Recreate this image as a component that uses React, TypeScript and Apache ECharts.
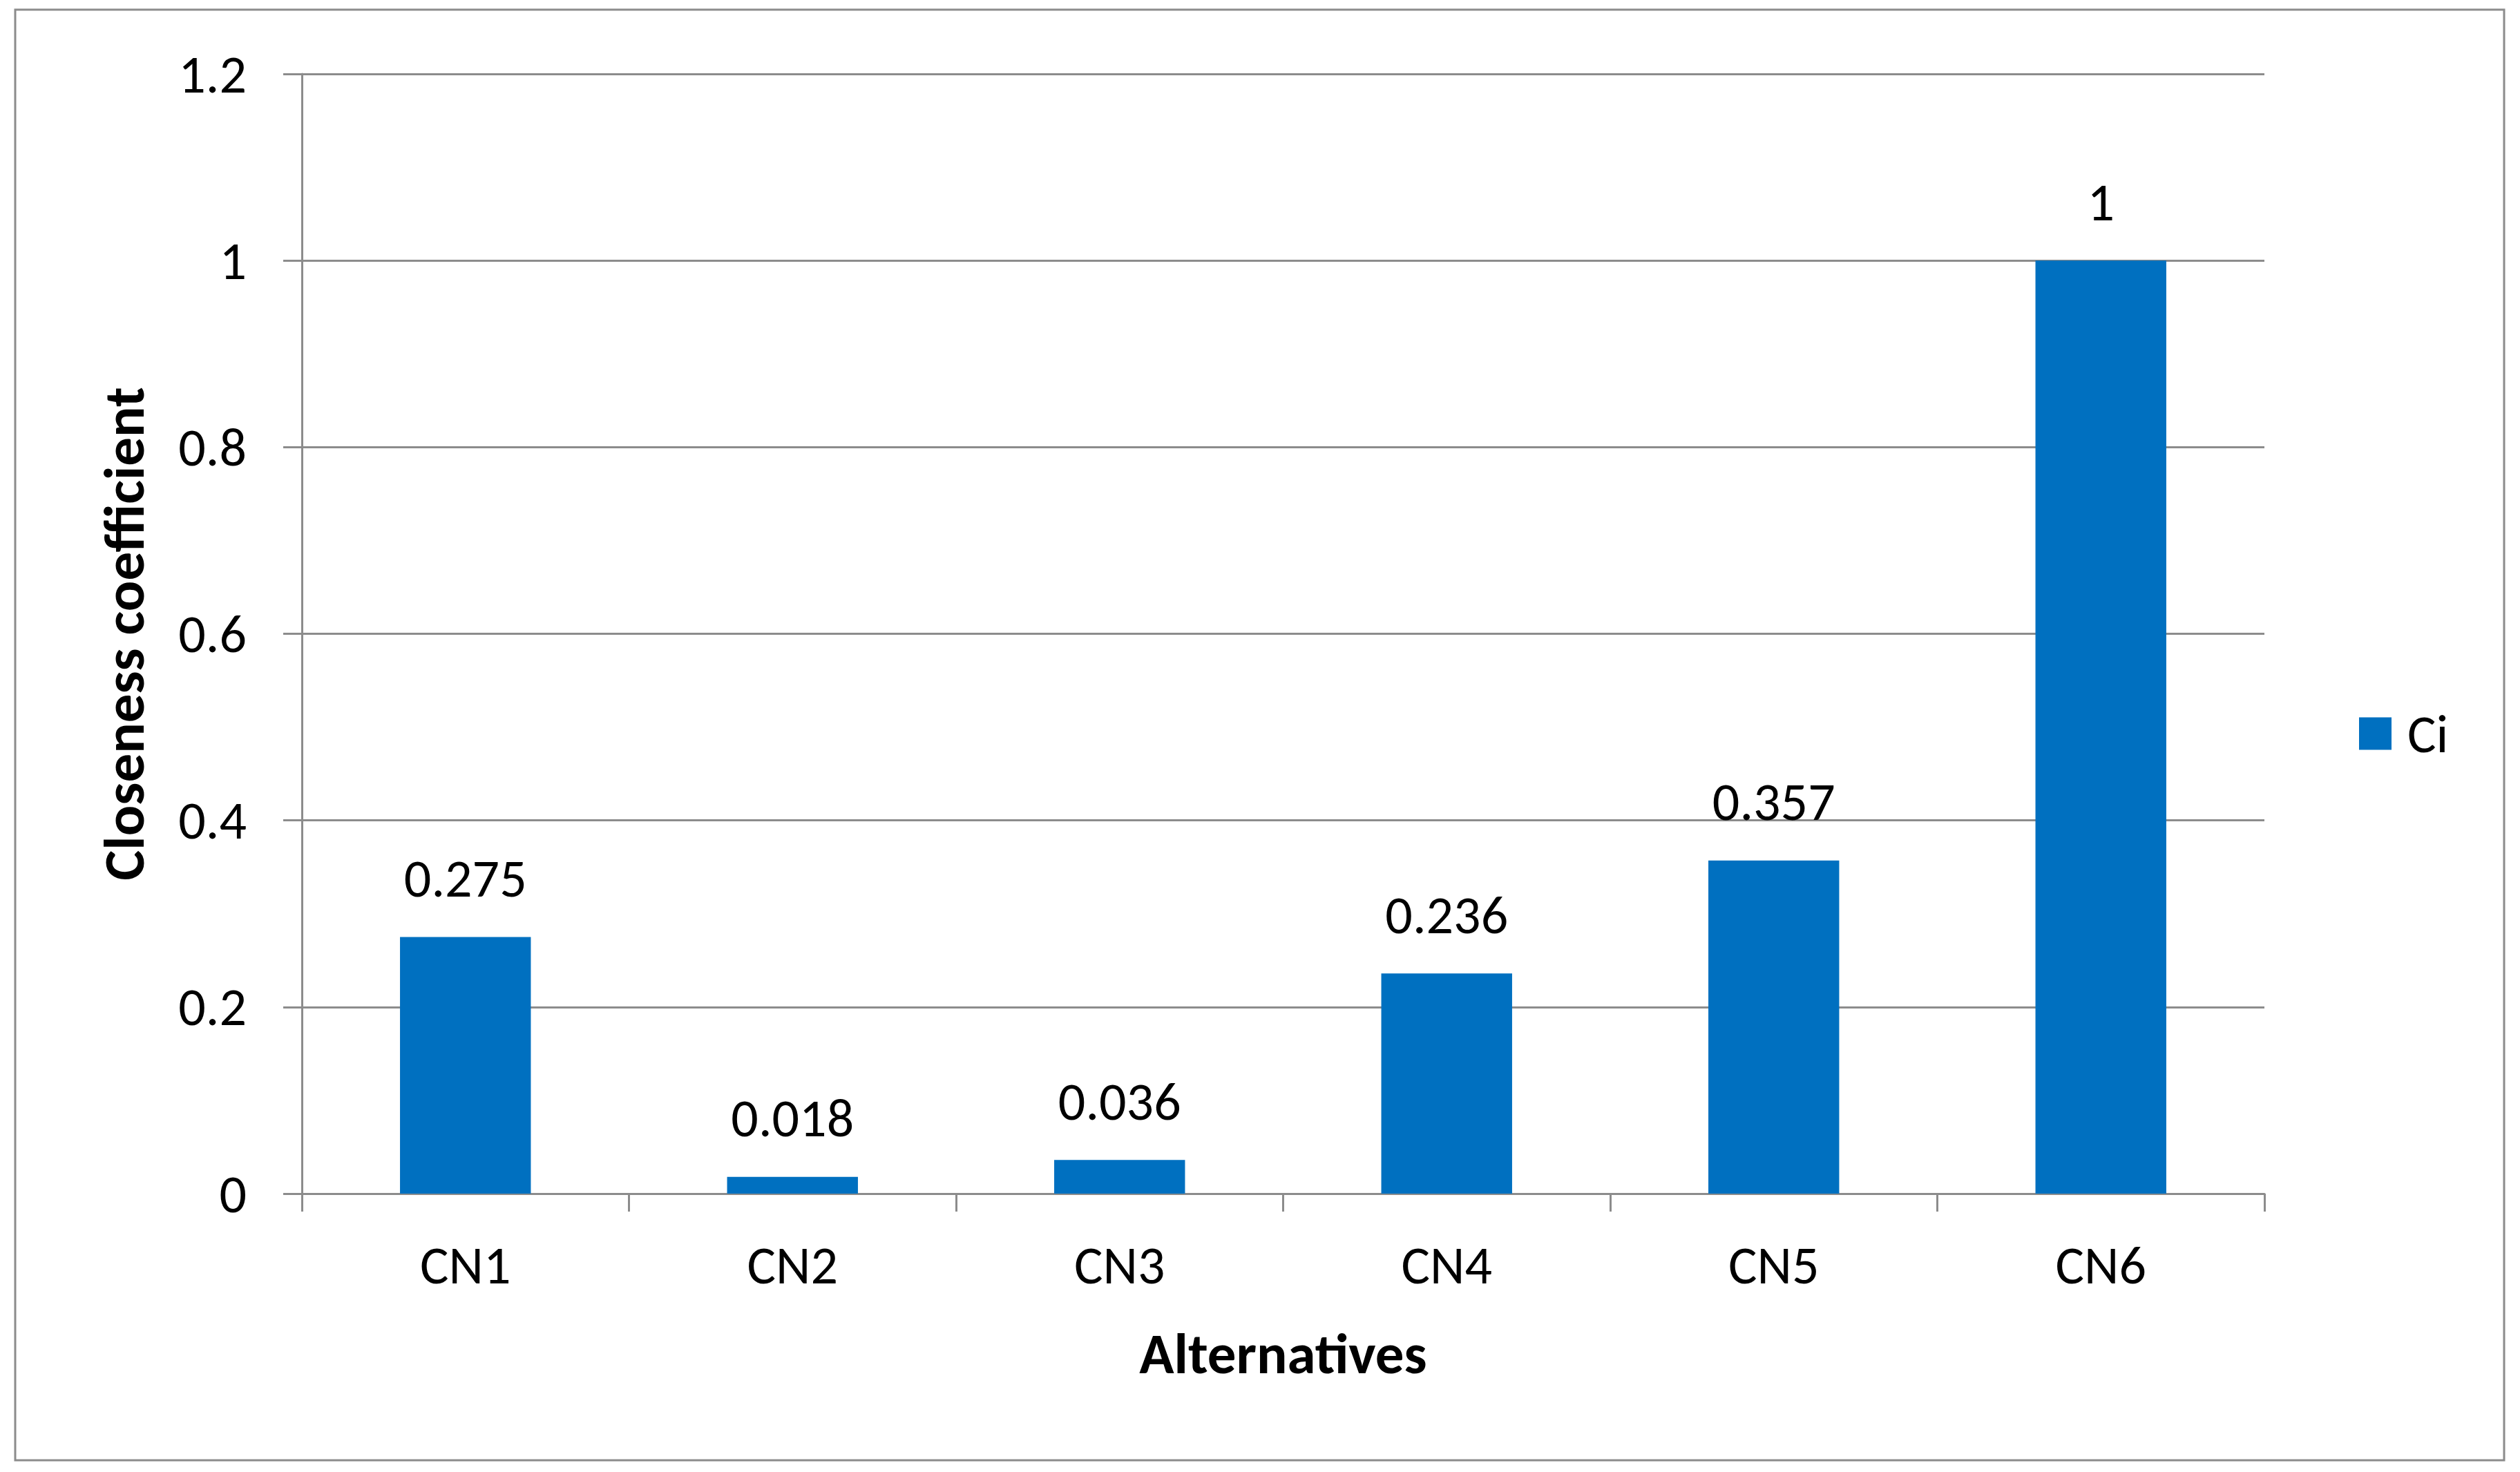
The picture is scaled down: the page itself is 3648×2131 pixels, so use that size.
import React, { useEffect, useRef } from "react";
import * as echarts from "echarts";

const categories = ["CN1", "CN2", "CN3", "CN4", "CN5", "CN6"];
const ciValues = [0.275, 0.018, 0.036, 0.236, 0.357, 1];
const seriesName = "Ci";
const xTitle = "Alternatives";
const yTitle = "Closeness coefficient";

const FONT = "Carlito, Calibri, Lato, 'Open Sans', sans-serif";
const GRAY = "#8c8c8c";

export default function App() {
  const ref = useRef<HTMLDivElement>(null);
  useEffect(() => {
    if (!ref.current) return;
    const chart = echarts.init(ref.current, null, { renderer: "svg" });
    chart.setOption({
      animation: false,
      backgroundColor: "#ffffff",
      textStyle: { fontFamily: FONT },
      graphic: [
        {
          type: "rect",
          shape: { x: 22, y: 14, width: 3603, height: 2100 },
          style: { fill: "none", stroke: GRAY, lineWidth: 3 },
          silent: true,
        },
      ],
      grid: { left: 437, top: 107, width: 2841, height: 1621, containLabel: false },
      legend: {
        show: true,
        data: [seriesName],
        left: 3410,
        top: 1018,
        itemWidth: 47,
        itemHeight: 47,
        icon: "rect",
        textStyle: { fontSize: 78, color: "#000", fontFamily: FONT, padding: [0, 0, 0, 18] },
      },
      xAxis: {
        type: "category",
        data: categories,
        name: xTitle,
        nameLocation: "middle",
        nameGap: 190,
        nameTextStyle: { fontSize: 83, fontWeight: "bold", color: "#000", fontFamily: FONT, verticalAlign: "top" },
        axisLine: { show: true, lineStyle: { color: GRAY, width: 3 } },
        axisTick: { show: true, length: 26, lineStyle: { color: GRAY, width: 3 } },
        axisLabel: { fontSize: 78, color: "#000", margin: 64, fontFamily: FONT },
        splitLine: { show: false },
      },
      yAxis: {
        type: "value",
        min: 0,
        max: 1.2,
        interval: 0.2,
        name: yTitle,
        nameLocation: "middle",
        nameGap: 216,
        nameRotate: 90,
        nameTextStyle: { fontSize: 83, fontWeight: "bold", color: "#000", fontFamily: FONT },
        axisLine: { show: true, lineStyle: { color: GRAY, width: 3 } },
        axisTick: { show: true, length: 27, lineStyle: { color: GRAY, width: 3 } },
        axisLabel: {
          fontSize: 78,
          color: "#000",
          margin: 80,
          fontFamily: FONT,
          formatter: (v: number) => String(Math.round(v * 10) / 10),
        },
        splitLine: { show: true, lineStyle: { color: GRAY, width: 3 } },
      },
      series: [
        {
          name: seriesName,
          type: "bar",
          data: ciValues,
          barCategoryGap: "60%",
          itemStyle: { color: "#0070C0" },
          label: {
            show: true,
            position: "top",
            distance: 46,
            fontSize: 78,
            color: "#000",
            fontFamily: FONT,
            formatter: (p: any) => String(p.value),
          },
        },
      ],
    });
    return () => chart.dispose();
  }, []);
  return (
    <div
      ref={ref}
      style={{ position: "absolute", left: 0, top: 0, width: 3648, height: 2131 }}
    />
  );
}
